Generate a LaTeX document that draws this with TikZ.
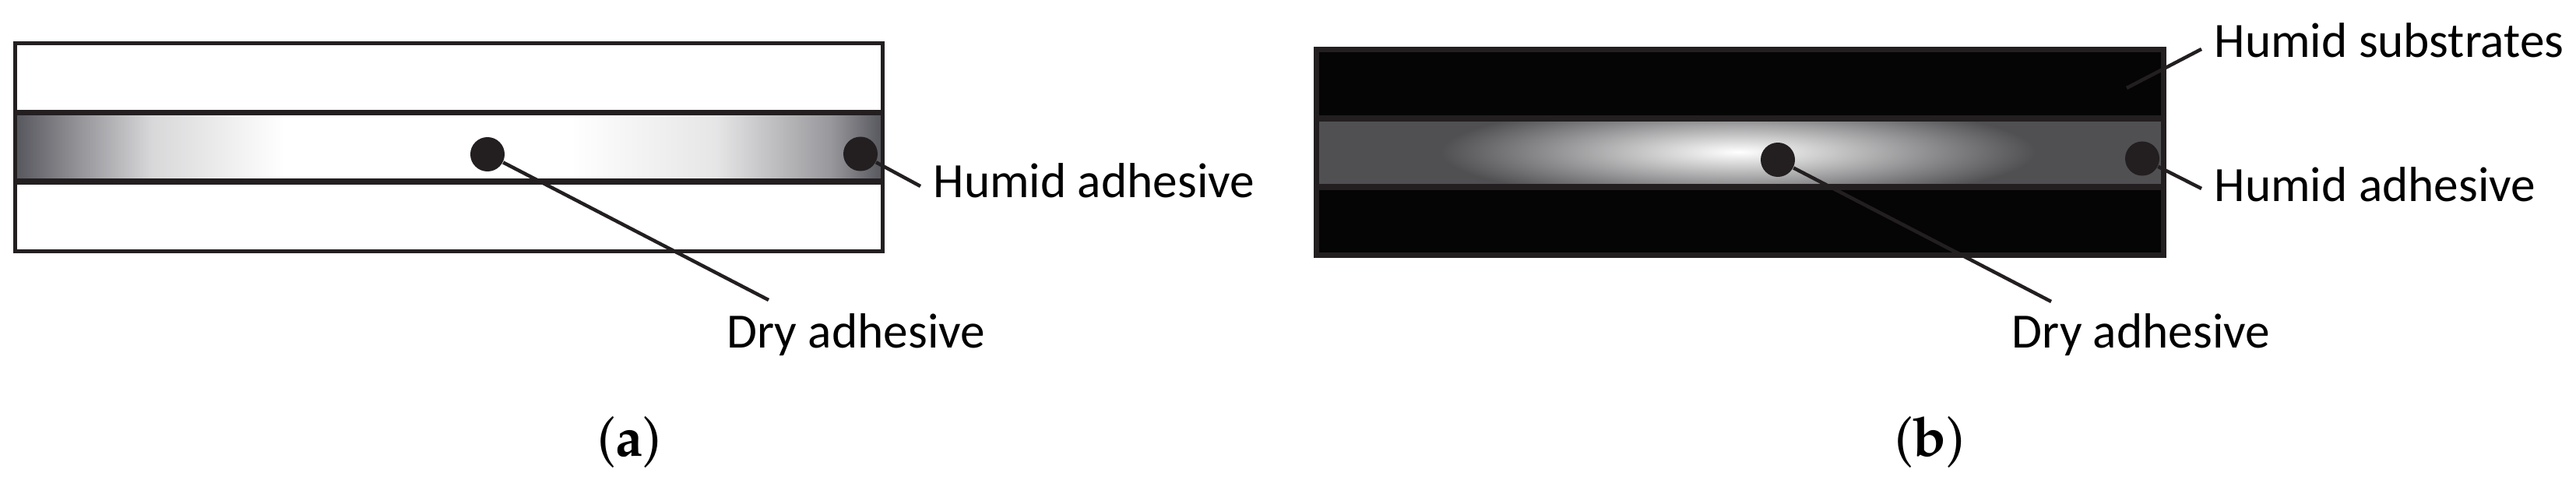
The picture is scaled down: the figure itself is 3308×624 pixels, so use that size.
\documentclass[tikz,border=0pt]{standalone}
\usepackage[T1]{fontenc}
\usepackage{fontspec}
\newfontfamily\labelfont{Carlito}
\newcommand{\capfont}{\fontencoding{T1}\fontfamily{ppl}\selectfont}

\definecolor{ink}{RGB}{35,31,32}
\definecolor{subsblack}{RGB}{5,5,5}
\definecolor{bandgray}{RGB}{80,80,83}
\definecolor{edgegray}{RGB}{86,86,93}
\colorlet{fadeone}{edgegray!61}
\colorlet{fadetwo}{edgegray!23}
\colorlet{fadethree}{edgegray!15}

% dry centre, humid edges
\pgfdeclarehorizontalshading{adhesiveA}{100bp}{color(0bp)=(edgegray); color(25bp)=(edgegray);
  color(28.9bp)=(fadeone); color(32.9bp)=(fadetwo); color(40.5bp)=(white); color(57bp)=(white);
  color(65.4bp)=(fadethree); color(72bp)=(fadeone); color(75bp)=(edgegray); color(100bp)=(edgegray)}

\begin{document}
\begin{tikzpicture}[x=0.01cm, y=-0.01cm]
    \tikzstyle{bead}=[draw=none,fill=ink,shape=circle,inner sep=0pt,minimum size=0.44cm]
    \tikzstyle{tag}=[anchor=base west,inner sep=0pt,font=\labelfont\fontsize{18pt}{22pt}\selectfont]
    \tikzstyle{leader}=[draw=ink,line width=1.28pt]
    \tikzstyle{caption}=[anchor=base,inner sep=0pt,font=\capfont\fontsize{20pt}{24pt}\selectfont]

    \useasboundingbox (0,0) rectangle (3308,624);

    % (a) dry substrates
    \shade [shading=adhesiveA] (19.5,144.5) rectangle (1133.5,233);
    \draw [ink, line width=1.42pt] (19.5,55.5) rectangle (1133.5,322.5);
    \foreach \y in {144.5,233}
    \draw [ink, line width=2.13pt] (19.5,\y) -- (1133.5,\y);

    \node [bead] (dotA1) at (626,198) {};
    \node [bead] (dotA2) at (1105,197.5) {};

    \node [tag] (humidA) at (1198,253) {Humid adhesive};
    \node [tag] (dryA) at (933,446) {Dry adhesive};

    \coordinate (endHumidA) at (1182,239);
    \coordinate (endDryA) at (987,385);
    \draw [leader] (dotA1) -- (endDryA);
    \draw [leader] (dotA2) -- (endHumidA);

    % (b) humid substrates
    \fill [subsblack] (1690.5,63.5) rectangle (2778.5,327.5);
    \fill [bandgray] (1690.5,152) rectangle (2778.5,240);
    \begin{scope}
    \clip (1690.5,152) rectangle (2778.5,240);
    \shade [inner color=white, outer color=bandgray] (2232,195) ellipse [x radius=382, y radius=65];
    \end{scope}
    \draw [ink, line width=2pt] (1690.5,63.5) rectangle (2778.5,327.5);
    \foreach \y in {152,240}
    \draw [ink, line width=2.28pt] (1690.5,\y) -- (2778.5,\y);

    \node [bead] (dotB1) at (2283,205) {};
    \node [bead] (dotB2) at (2751,203.5) {};

    \node [tag] (subsB) at (2843,73) {Humid substrates};
    \node [tag] (humidB) at (2843,258) {Humid adhesive};
    \node [tag] (dryB) at (2583,446) {Dry adhesive};

    \coordinate (startSubsB) at (2731,113);
    \coordinate (endSubsB) at (2827,63);
    \coordinate (endHumidB) at (2827,242);
    \coordinate (endDryB) at (2634,387);
    \draw [leader] (startSubsB) -- (endSubsB);
    \draw [leader] (dotB1) -- (endDryB);
    \draw [leader] (dotB2) -- (endHumidB);

    % captions
    \node [caption] (capA) at (808,585) {(\textbf{a})};
    \node [caption] (capB) at (2478,585) {(\textbf{b})};

\end{tikzpicture}
\end{document}
